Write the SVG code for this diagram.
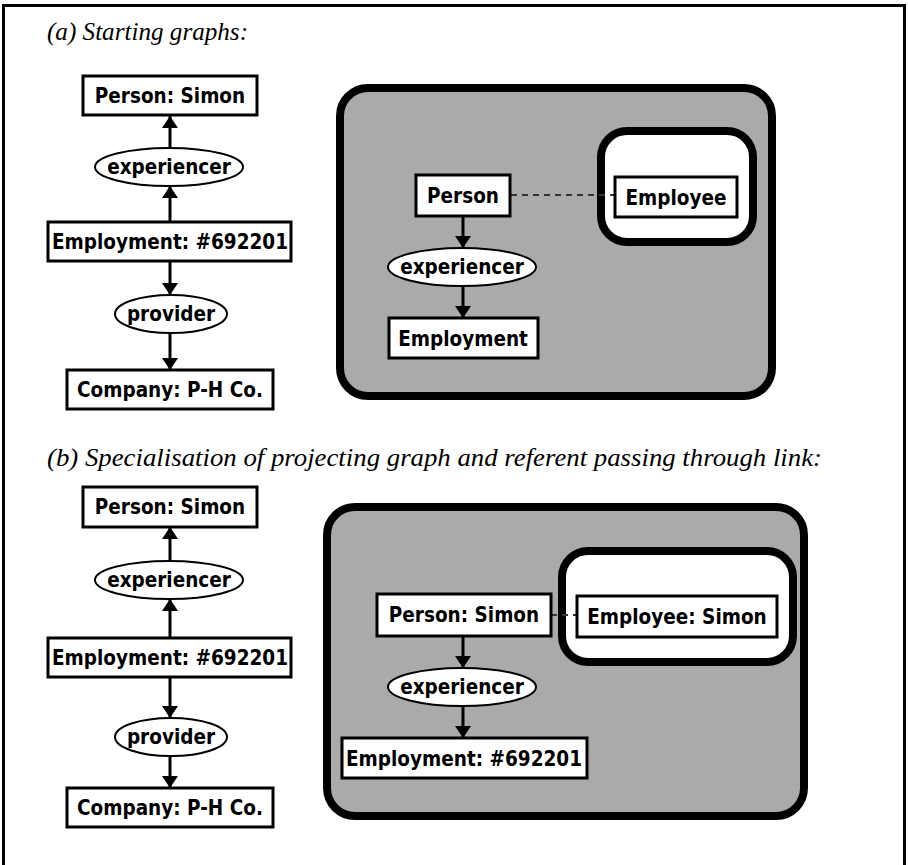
<svg xmlns="http://www.w3.org/2000/svg" width="908" height="865" viewBox="0 0 908 865">
<defs>
<marker id="ah" viewBox="0 0 12 16" refX="12" refY="8" markerWidth="12" markerHeight="16" markerUnits="userSpaceOnUse" orient="auto">
<path d="M0,0 L12,8 L0,16 Z" fill="#000"/>
</marker>
</defs>
<style>
.box{fill:#fff;stroke:#000;stroke-width:3}
.rel{fill:#fff;stroke:#000;stroke-width:2}
.ctx{fill:#aaaaaa;stroke:#000;stroke-width:8}
.ictx{fill:#fff;stroke:#000;stroke-width:8}
.t{font-family:"DejaVu Sans Condensed","DejaVu Sans",sans-serif;font-stretch:condensed;font-weight:bold;font-size:20.5px;text-anchor:middle;fill:#000}
.title{font-family:"Liberation Serif","Times New Roman",serif;font-style:italic;font-size:25px;fill:#000}
.arr{stroke:#000;stroke-width:3;fill:none;marker-end:url(#ah)}
.dash{stroke:#333;stroke-width:2;stroke-dasharray:6 5;fill:none}
</style>
<rect width="908" height="865" fill="#fff"/>
<path d="M3.5,865 V5.5 H904.5 V865" fill="none" stroke="#000" stroke-width="3"/>

<text class="title" x="47" y="40" textLength="201" lengthAdjust="spacingAndGlyphs">(a) Starting graphs:</text>
<text class="title" x="47" y="466" textLength="775" lengthAdjust="spacingAndGlyphs">(b) Specialisation of projecting graph and referent passing through link:</text>

<g id="ctx-a">
<rect class="ctx" x="340" y="88" width="432" height="308" rx="28"/>
</g>
<g id="ctx-a-inner">
<rect class="ictx" x="601" y="131" width="152" height="111" rx="26"/>
</g>
<g id="ctx-b">
<rect class="ctx" x="327" y="507" width="477" height="309" rx="28"/>
</g>
<g id="ctx-b-inner">
<rect class="ictx" x="562" y="551" width="231" height="111" rx="26"/>
</g>

<g id="connectors">
<line class="arr" x1="170" y1="148" x2="170" y2="116"/>
<line class="arr" x1="170" y1="222" x2="170" y2="186"/>
<line class="arr" x1="170" y1="261" x2="170" y2="295"/>
<line class="arr" x1="170" y1="333" x2="170" y2="370"/>
<line class="arr" x1="463" y1="216" x2="463" y2="248"/>
<line class="arr" x1="463" y1="286" x2="463" y2="318"/>
<line class="dash" x1="511" y1="195" x2="615" y2="195"/>
<line class="arr" x1="170" y1="561" x2="170" y2="527"/>
<line class="arr" x1="170" y1="638" x2="170" y2="599"/>
<line class="arr" x1="170" y1="677" x2="170" y2="718"/>
<line class="arr" x1="170" y1="756" x2="170" y2="788"/>
<line class="arr" x1="463" y1="636" x2="463" y2="668"/>
<line class="arr" x1="463" y1="706" x2="463" y2="738"/>
<line class="dash" x1="551" y1="615" x2="577" y2="615"/>
</g>

<g id="a-person"><rect class="box" x="83" y="76" width="174" height="39"/><text class="t" x="170" y="103">Person: Simon</text></g>
<g id="a-exp"><ellipse class="rel" cx="169" cy="167" rx="74" ry="19"/><text class="t" x="169" y="174">experiencer</text></g>
<g id="a-employment"><rect class="box" x="48" y="222" width="243" height="39"/><text class="t" x="170" y="249">Employment: #692201</text></g>
<g id="a-provider"><ellipse class="rel" cx="171" cy="314" rx="56" ry="19"/><text class="t" x="171" y="321">provider</text></g>
<g id="a-company"><rect class="box" x="67" y="370" width="206" height="39"/><text class="t" x="170" y="397">Company: P-H Co.</text></g>

<g id="a-r-person"><rect class="box" x="416" y="175" width="94" height="41"/><text class="t" x="463" y="203">Person</text></g>
<g id="a-r-employee"><rect class="box" x="615" y="177" width="122" height="40"/><text class="t" x="676" y="205">Employee</text></g>
<g id="a-r-exp"><ellipse class="rel" cx="462" cy="267" rx="74" ry="19"/><text class="t" x="462" y="274">experiencer</text></g>
<g id="a-r-employment"><rect class="box" x="389" y="318" width="149" height="40"/><text class="t" x="463" y="346">Employment</text></g>

<g id="b-person"><rect class="box" x="83" y="487" width="174" height="40"/><text class="t" x="170" y="514">Person: Simon</text></g>
<g id="b-exp"><ellipse class="rel" cx="169" cy="580" rx="74" ry="19"/><text class="t" x="169" y="587">experiencer</text></g>
<g id="b-employment"><rect class="box" x="48" y="638" width="243" height="39"/><text class="t" x="170" y="665">Employment: #692201</text></g>
<g id="b-provider"><ellipse class="rel" cx="171" cy="737" rx="56" ry="19"/><text class="t" x="171" y="744">provider</text></g>
<g id="b-company"><rect class="box" x="67" y="788" width="206" height="39"/><text class="t" x="170" y="815">Company: P-H Co.</text></g>

<g id="b-r-person"><rect class="box" x="377" y="594" width="174" height="42"/><text class="t" x="464" y="622">Person: Simon</text></g>
<g id="b-r-employee"><rect class="box" x="577" y="596" width="200" height="41"/><text class="t" x="677" y="624">Employee: Simon</text></g>
<g id="b-r-exp"><ellipse class="rel" cx="462" cy="687" rx="74" ry="19"/><text class="t" x="462" y="694">experiencer</text></g>
<g id="b-r-employment"><rect class="box" x="342" y="738" width="245" height="40"/><text class="t" x="464" y="766">Employment: #692201</text></g>
</svg>
